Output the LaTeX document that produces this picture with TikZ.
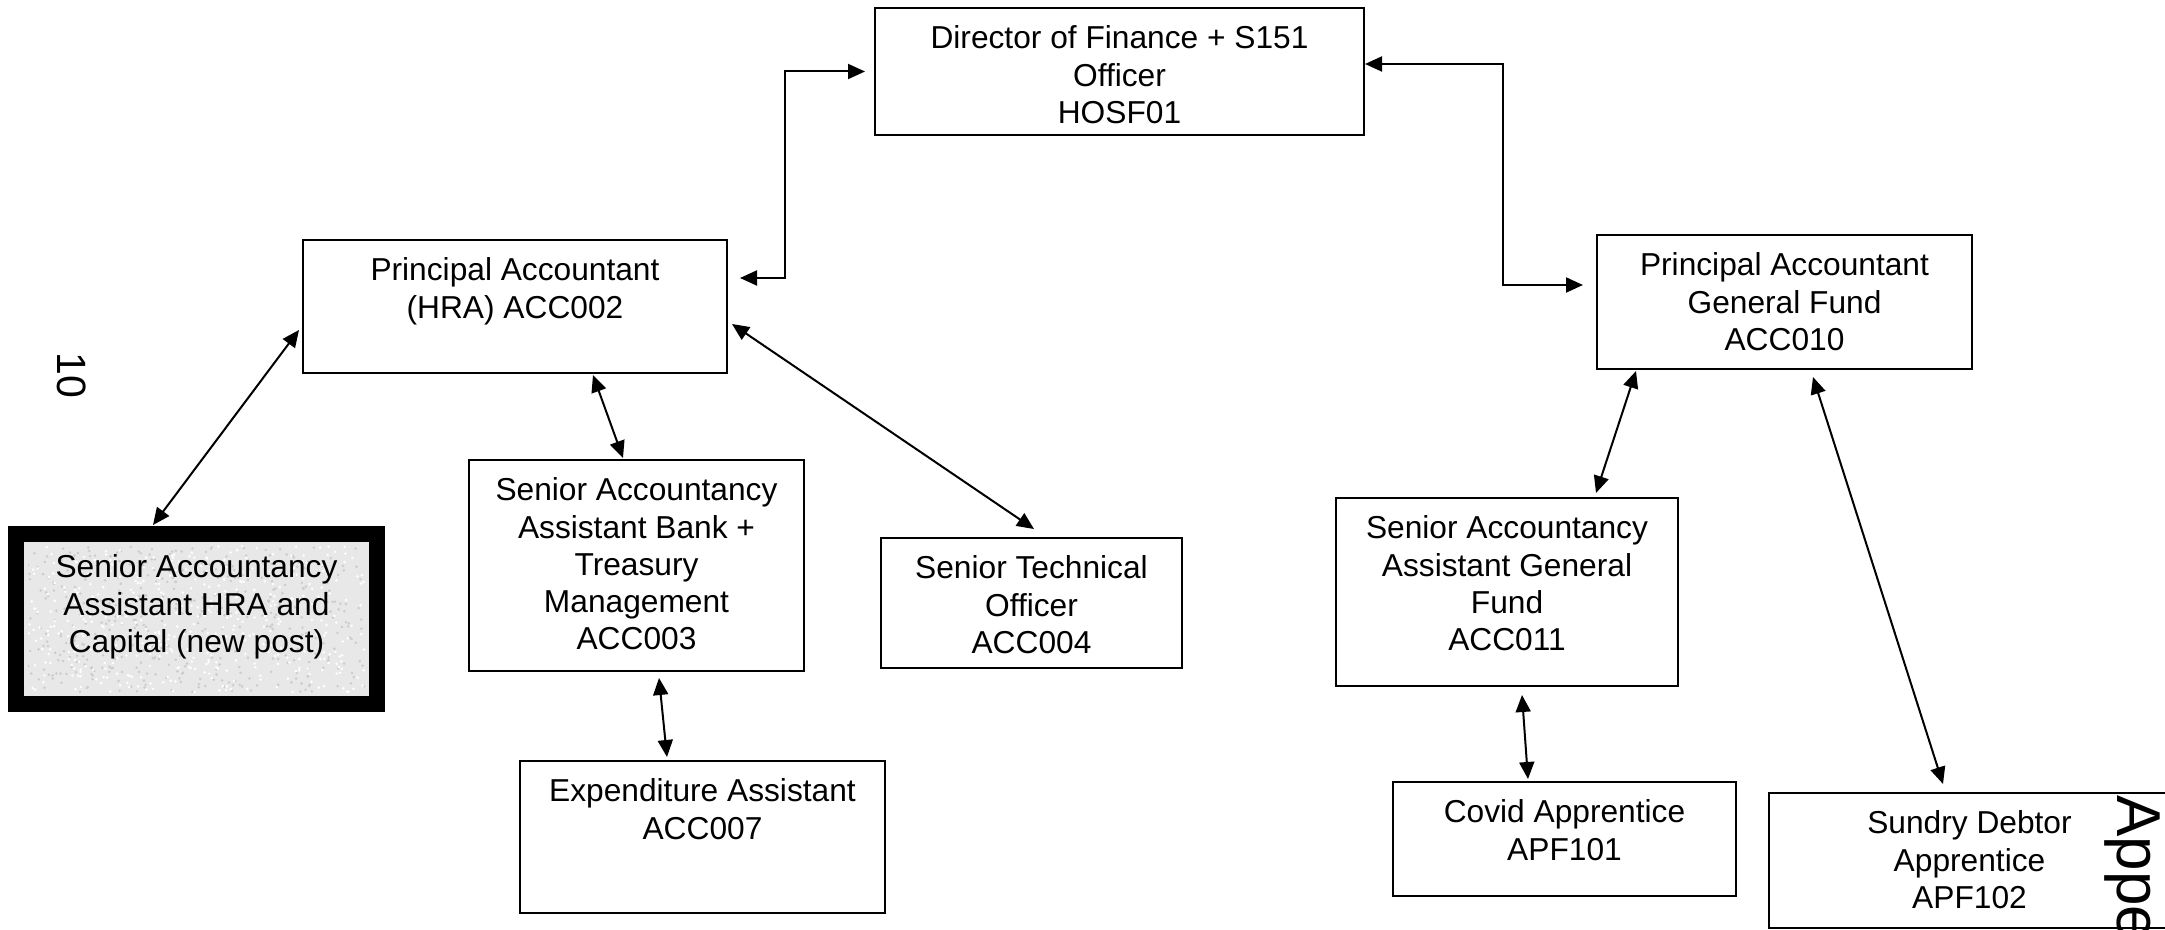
\documentclass[tikz,border=0pt]{standalone}
\usepackage{fontspec}
\setmainfont{Liberation Sans}
\usetikzlibrary{arrows.meta}
\tikzset{
  boxst/.style={draw, line width=0.8pt, anchor=north west, inner sep=0pt, outer sep=0pt},
  txt/.style={align=center, inner sep=0pt, anchor=north, font=\fontsize{15.85}{18.6}\selectfont},
  conn/.style={line width=1pt, {Triangle[length=8.5pt,width=7.5pt]}-{Triangle[length=8.5pt,width=7.5pt]}},
  newpost/.style={draw, line width=8pt, fill=black!9, inner sep=0pt, outer sep=0pt, anchor=north west},
}
\newcommand\orgbox[6]{%
  \node[boxst, minimum width=#4, minimum height=#5] (#1) at (#2,#3) {};
  \node[txt] (#1-t) at ([yshift=-8.8pt]#1.north) {#6};
}
\begin{document}
\begin{tikzpicture}[x=0.5pt,y=-0.5pt]
\useasboundingbox (0,0) rectangle (2165,930);
\clip (0,0) rectangle (2165,930);
% boxes
\orgbox{dir}{875}{8}{244.5pt}{63.5pt}{Director of Finance + S151\\Officer\\HOSF01}
\orgbox{hra}{303}{240}{212pt}{66.5pt}{Principal Accountant\\(HRA) ACC002}
\orgbox{gf}{1597}{235}{187.5pt}{67pt}{Principal Accountant\\General Fund\\ACC010}
\orgbox{bank}{469}{460}{167.5pt}{105.5pt}{Senior Accountancy\\Assistant Bank +\\Treasury\\Management\\ACC003}
\orgbox{tech}{881}{538}{150.5pt}{65pt}{Senior Technical\\Officer\\ACC004}
\orgbox{gfa}{1336}{498}{171pt}{94pt}{Senior Accountancy\\Assistant General\\Fund\\ACC011}
\orgbox{exp}{520}{761}{182.5pt}{76pt}{Expenditure Assistant\\ACC007}
\orgbox{covid}{1393}{782}{171.5pt}{57pt}{Covid Apprentice\\APF101}
\orgbox{sundry}{1769}{793}{200.5pt}{67.5pt}{Sundry Debtor\\Apprentice\\APF102}
% new post box
\node[newpost, minimum width=180.5pt, minimum height=85pt] (np) at (16,534) {};
\begin{scope}
  \clip (28,546) rectangle (365,692);
  \pgfmathsetseed{7}
  \foreach \i in {1,...,450}{
    \pgfmathsetmacro{\rx}{28+337*rnd}
    \pgfmathsetmacro{\ry}{546+146*rnd}
    \fill[black!20] (\rx,\ry) circle (0.7pt);
  }
  \foreach \i in {1,...,450}{
    \pgfmathsetmacro{\rx}{28+337*rnd}
    \pgfmathsetmacro{\ry}{546+146*rnd}
    \fill[white] (\rx,\ry) circle (0.7pt);
  }
\end{scope}
\node[txt, anchor=center] (np-t) at ([shift={(0,-12)}]np.center) {Senior Accountancy\\Assistant HRA and\\Capital (new post)};
% page texts
\node[rotate=-90, anchor=base west, inner sep=0pt, font=\fontsize{20.5}{24}\selectfont] (pgnum) at (57,352) {10};
\node[rotate=-90, anchor=base west, inner sep=0pt, font=\fontsize{31}{36}\selectfont] (appx) at (2117,795) {Appe};
% connector end points
\coordinate (dA) at ([xshift=-5pt]dir.west);
\coordinate (hA) at ([shift={(13,-28.5)}]hra.east);
\coordinate (dB) at ([shift={(1,-7.5)}]dir.east);
\coordinate (gB) at ([shift={(-14,-17)}]gf.west);
\coordinate (hC) at ([shift={(-4,23.5)}]hra.west);
\coordinate (nC) at ([shift={(-43.5,-94)}]np.center);
\coordinate (hD) at ([shift={(78,2)}]hra.south);
\coordinate (bD) at ([shift={(-13.5,-2)}]bank.north);
\coordinate (hE) at ([shift={(5,17.5)}]hra.east);
\coordinate (tE) at ([shift={(2.5,-9)}]tech.north);
\coordinate (bF) at ([shift={(22.5,7)}]bank.south);
\coordinate (eF) at ([shift={(-35.5,-4)}]exp.north);
\coordinate (gG) at ([shift={(-148.5,2)}]gf.south);
\coordinate (aG) at ([shift={(89,-5)}]gfa.north);
\coordinate (gH) at ([shift={(28.5,8)}]gf.south);
\coordinate (sH) at ([shift={(-26.5,-9)}]sundry.north);
\coordinate (aI) at ([shift={(15,9)}]gfa.south);
\coordinate (cI) at ([shift={(-36.5,-3)}]covid.north);
% connectors
\draw[conn] (hA) -- ++(45,0) |- (dA);
\draw[conn] (dB) -- ++(138,0) |- (gB);
\draw[conn] (hC) -- (nC);
\draw[conn] (hD) -- (bD);
\draw[conn] (hE) -- (tE);
\draw[conn] (bF) -- (eF);
\draw[conn] (gG) -- (aG);
\draw[conn] (gH) -- (sH);
\draw[conn] (aI) -- (cI);
\end{tikzpicture}
\end{document}
